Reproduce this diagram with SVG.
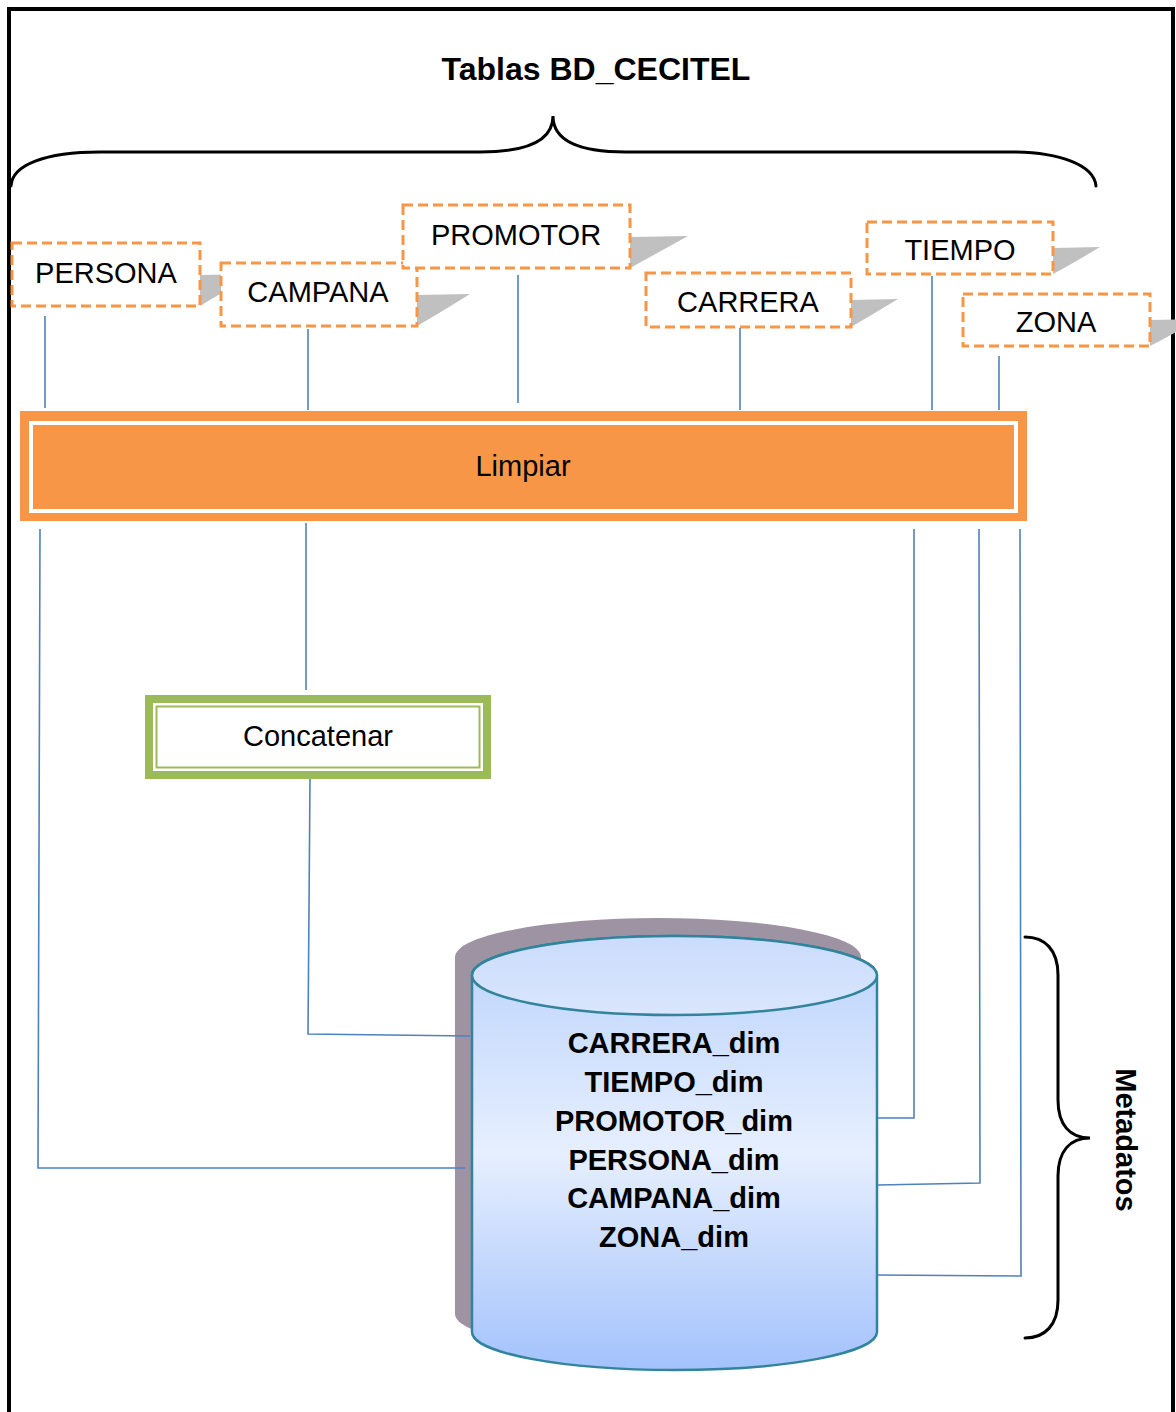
<svg xmlns="http://www.w3.org/2000/svg" width="1176" height="1412" viewBox="0 0 1176 1412">
  <style>
    .lbl { font-family: "Liberation Sans", Arial, sans-serif; font-size: 29px; fill: #000; text-anchor: middle; }
    .bold { font-weight: bold; }
    .src { fill: #fff; stroke: #f79646; stroke-width: 3; stroke-dasharray: 10 5; }
    .shadow { fill: #c0c0c0; }
    .conn { fill: none; stroke: #4f81bd; stroke-width: 1.6; }
    .brace { fill: none; stroke: #000; stroke-width: 3; stroke-linecap: round; }
  </style>
  <defs>
    <linearGradient id="cylBody" x1="0" y1="0" x2="0" y2="1">
      <stop offset="0" stop-color="#bad2fc"/>
      <stop offset="0.5" stop-color="#e6effe"/>
      <stop offset="1" stop-color="#a3c2fc"/>
    </linearGradient>
    <linearGradient id="cylTop" x1="0" y1="0" x2="0" y2="1">
      <stop offset="0" stop-color="#cadcfc"/>
      <stop offset="1" stop-color="#dae6fd"/>
    </linearGradient>
  </defs>

  <rect width="1176" height="1412" fill="#fff"/>
  <!-- outer frame -->
  <rect x="9" y="9" width="1164" height="1420" fill="none" stroke="#000" stroke-width="4"/>

  <!-- title and top brace -->
  <g id="title">
    <text class="lbl bold" x="596" y="80" style="font-size:32px">Tablas BD_CECITEL</text>
    <path class="brace" d="M11,186 C12,165 45,152 100,152 L480,152 C530,152 553,140 553,116 C553,140 576,152 626,152 L1010,152 C1060,152 1094,165 1096,186"/>
  </g>

  <!-- source tables -->
  <g id="persona">
    <path class="shadow" d="M200,275 L258,274 Q222,292 200,306 Z"/>
    <rect class="src" x="12" y="243" width="188" height="63"/>
    <text class="lbl" x="106" y="283">PERSONA</text>
  </g>
  <g id="campana">
    <path class="shadow" d="M417,295 L470,294 Q438,314 417,326 Z"/>
    <rect class="src" x="221" y="263" width="196" height="63"/>
    <text class="lbl" x="318" y="302">CAMPANA</text>
  </g>
  <g id="promotor">
    <path class="shadow" d="M630,237 L688,236 Q652,256 630,268 Z"/>
    <rect class="src" x="403" y="205" width="227" height="63"/>
    <text class="lbl" x="516" y="245">PROMOTOR</text>
  </g>
  <g id="carrera">
    <path class="shadow" d="M851,300 L898,299 Q870,316 851,327 Z"/>
    <rect class="src" x="646" y="273" width="205" height="54"/>
    <text class="lbl" x="748" y="312">CARRERA</text>
  </g>
  <g id="tiempo">
    <path class="shadow" d="M1053,248 L1100,247 Q1072,264 1053,274 Z"/>
    <rect class="src" x="867" y="222" width="186" height="52"/>
    <text class="lbl" x="960" y="260">TIEMPO</text>
  </g>
  <g id="zona">
    <path class="shadow" d="M1150,320 L1198,319 Q1170,336 1150,346 Z"/>
    <rect class="src" x="963" y="294" width="187" height="52"/>
    <text class="lbl" x="1056" y="332">ZONA</text>
  </g>

  <!-- cleaning step -->
  <g id="limpiar">
    <rect x="20" y="411" width="1007" height="110" fill="#f79646"/>
    <rect x="31" y="423" width="985" height="88" fill="none" stroke="#fff" stroke-width="4"/>
    <text class="lbl" x="523" y="476">Limpiar</text>
  </g>

  <!-- concatenation step -->
  <g id="concatenar">
    <rect x="149" y="699" width="338" height="76" fill="#fff" stroke="#9bbb59" stroke-width="8"/>
    <rect x="156.5" y="706.5" width="323" height="61" fill="none" stroke="#9bbb59" stroke-width="2"/>
    <text class="lbl" x="318" y="746">Concatenar</text>
  </g>

  <!-- dimension store -->
  <g id="almacen">
    <path d="M455,957 A203,39 0 0 1 861,957 L861,1314 A203,38 0 0 1 455,1314 Z" fill="#9e93a3"/>
    <path d="M472,975.5 A202.5,39.5 0 0 1 877,975.5 L877,1332 A202.5,38 0 0 1 472,1332 Z" fill="url(#cylBody)" stroke="#31849b" stroke-width="2.5"/>
    <ellipse cx="674.5" cy="975.5" rx="202.5" ry="39.5" fill="url(#cylTop)" stroke="#31849b" stroke-width="2.5"/>
    <text class="lbl bold" x="674" y="1053">CARRERA_dim</text>
    <text class="lbl bold" x="674" y="1092">TIEMPO_dim</text>
    <text class="lbl bold" x="674" y="1131">PROMOTOR_dim</text>
    <text class="lbl bold" x="674" y="1170">PERSONA_dim</text>
    <text class="lbl bold" x="674" y="1208">CAMPANA_dim</text>
    <text class="lbl bold" x="674" y="1247">ZONA_dim</text>
  </g>

  <!-- connectors (drawn over the store's shadow) -->
  <g id="connectors">
    <line class="conn" x1="45" y1="316" x2="45" y2="408"/>
    <line class="conn" x1="308" y1="329" x2="308" y2="410"/>
    <line class="conn" x1="518" y1="275" x2="518" y2="403"/>
    <line class="conn" x1="740" y1="328" x2="740" y2="410"/>
    <line class="conn" x1="932" y1="276" x2="932" y2="410"/>
    <line class="conn" x1="999" y1="356" x2="999" y2="410"/>
    <polyline class="conn" points="40,529 38,1168 465,1168"/>
    <line class="conn" x1="306" y1="523" x2="306" y2="690"/>
    <polyline class="conn" points="310,779 308,1034 470,1036"/>
    <polyline class="conn" points="914,529 914,1118 878,1118"/>
    <polyline class="conn" points="979,529 980,1183 878,1185"/>
    <polyline class="conn" points="1020,529 1021,1276 876,1275"/>
  </g>

  <!-- metadata brace -->
  <g id="metadatos">
    <path class="brace" d="M1025,937 C1045,937 1058,950 1058,975 L1058,1100 C1058,1125 1070,1138 1090,1138 C1070,1138 1058,1151 1058,1176 L1058,1300 C1058,1325 1045,1338 1025,1338" stroke-width="2.2"/>
    <text class="lbl bold" transform="translate(1116,1140) rotate(90)" x="0" y="0">Metadatos</text>
  </g>
</svg>
